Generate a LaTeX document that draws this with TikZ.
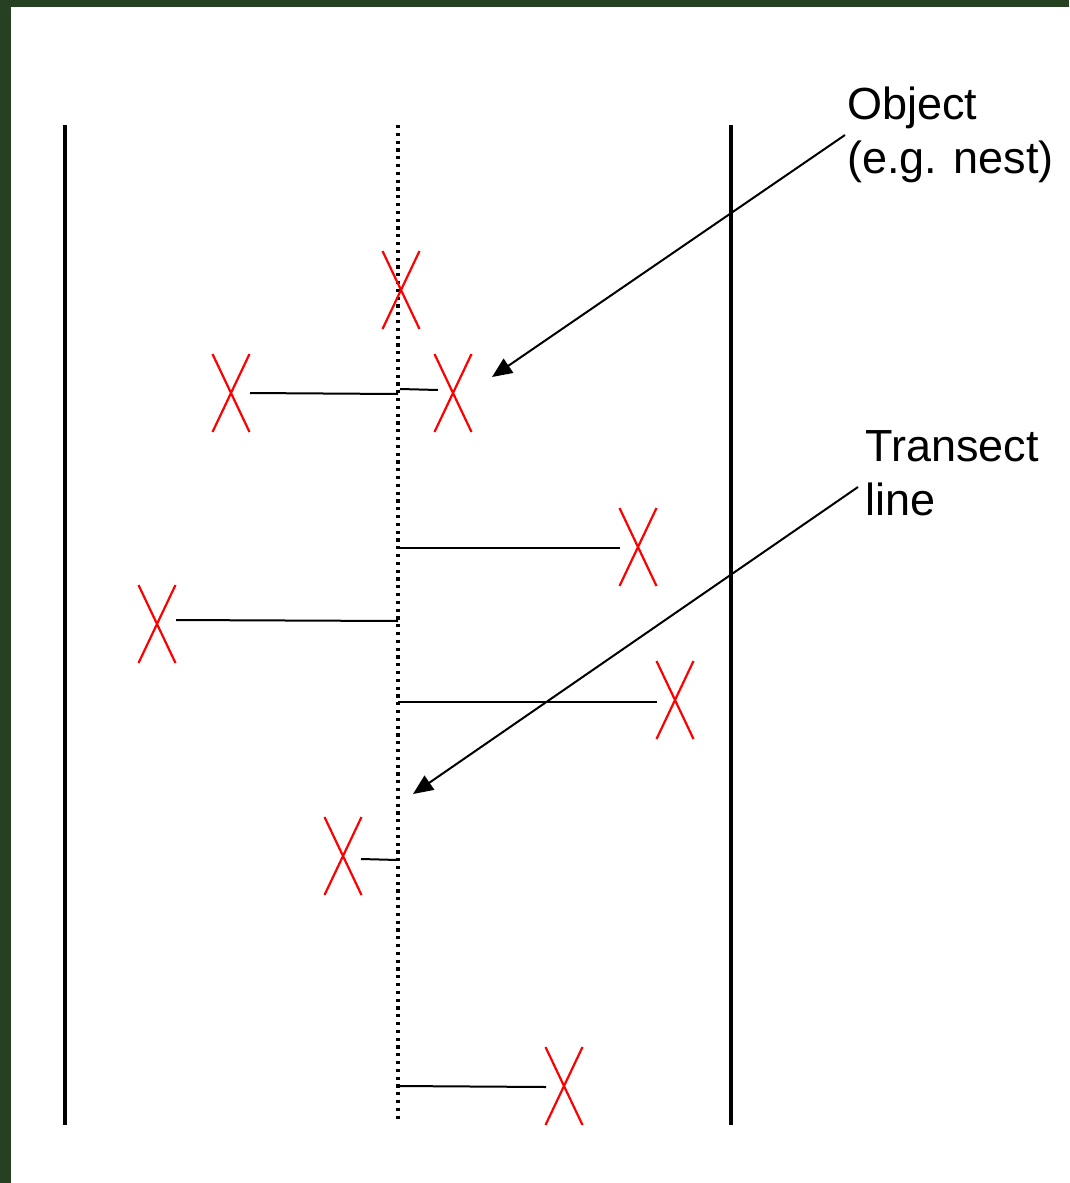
\documentclass[tikz,border=0pt]{standalone}
\usepackage{fontspec}
\setmainfont{Liberation Sans}
\usetikzlibrary{arrows.meta}
\definecolor{frame}{RGB}{38,64,34}
\definecolor{xred}{RGB}{255,0,0}
\tikzset{
  boundary/.style={line width=4pt, black},
  transect/.style={line width=3.5pt, dash pattern=on 3.2pt off 4.6pt, black},
  tie/.style={line width=2pt, black},
  pointer/.style={line width=2pt, black, -{Triangle[length=20pt,width=17pt]}},
  label/.style={font=\fontsize{45}{54}\selectfont, align=left, inner sep=0pt, anchor=north west},
  xmark/.pic={\draw[xred, line width=2.2pt] (-18.5,-39) -- (18.5,39) (18.5,-39) -- (-18.5,39);}
}
\begin{document}
\begin{tikzpicture}[x=1pt,y=-1pt]
\useasboundingbox (0,0) rectangle (1069,1183);
\fill[frame] (0,0) rectangle (1069,7);
\fill[frame] (0,0) rectangle (11,1183);
% boundaries
\coordinate (lt) at (65,125); \coordinate (lb) at (65,1125);
\coordinate (rt) at (731,125); \coordinate (rb) at (731,1125);
\draw[boundary] (lt) -- (lb);
\draw[boundary] (rt) -- (rb);
% transect
\coordinate (tt) at (398,125); \coordinate (tb) at (398,1122);
\draw[transect] (tt) -- (tb);
% objects
\pic at (401,290) {xmark};
\pic at (453,393) {xmark};
\pic at (231,393) {xmark};
\pic at (638,547) {xmark};
\pic at (157,624) {xmark};
\pic at (675,700) {xmark};
\pic at (343,856) {xmark};
\pic at (564,1086) {xmark};
% perpendicular distances
\coordinate (a1) at (250,393); \coordinate (a2) at (398,394);
\coordinate (b1) at (400,389); \coordinate (b2) at (438,390);
\coordinate (c1) at (398,548); \coordinate (c2) at (620,548);
\coordinate (d1) at (176,620); \coordinate (d2) at (398,621);
\coordinate (e1) at (398,702); \coordinate (e2) at (657,702);
\coordinate (f1) at (361,859); \coordinate (f2) at (398,860);
\coordinate (g1) at (398,1086); \coordinate (g2) at (546,1087);
\draw[tie] (a1) -- (a2);
\draw[tie] (b1) -- (b2);
\draw[tie] (c1) -- (c2);
\draw[tie] (d1) -- (d2);
\draw[tie] (e1) -- (e2);
\draw[tie] (f1) -- (f2);
\draw[tie] (g1) -- (g2);
% labels
\node[label] (obj) at (847,87) {Object\\(e.g. nest)};
\node[label] (tra) at (865,430) {Transect\\line};
\coordinate (objs) at (845,135); \coordinate (objt) at (492,377);
\coordinate (tras) at (858,487); \coordinate (trat) at (413,794);
\draw[pointer] (objs) -- (objt);
\draw[pointer] (tras) -- (trat);
\end{tikzpicture}
\end{document}
